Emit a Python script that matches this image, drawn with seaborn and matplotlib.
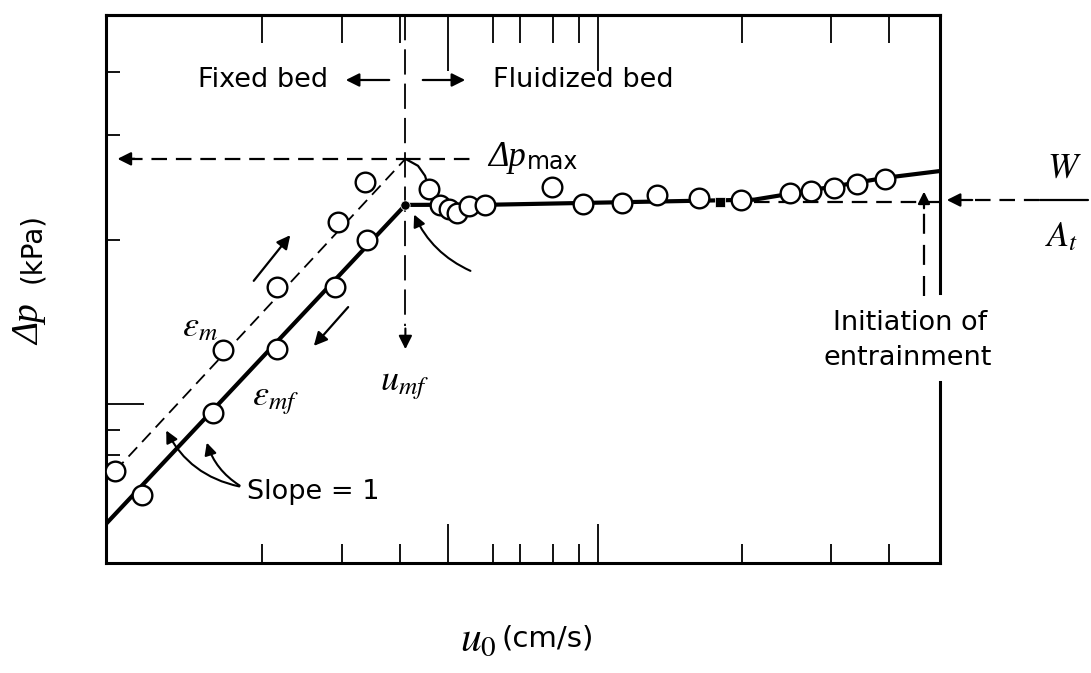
import matplotlib
matplotlib.use("Agg")
import matplotlib.pyplot as plt
from matplotlib.ticker import FixedLocator, NullFormatter
import seaborn as sns

# ---------------- data (u0 in cm/s, dp in kPa, log-log) ----------------
# increasing gas velocity through the packed bed (voidage eps_m)
u_up = [0.00603, 0.0316, 0.0724, 0.185, 0.28]
dp_up = [0.390, 2.135, 5.17, 12.9, 22.6]
# decreasing gas velocity, bed settled at eps_mf
u_down = [0.00912, 0.0271, 0.0724, 0.1765, 0.288]
dp_down = [0.279, 0.881, 2.165, 5.17, 10.0]
# fluidized region measurements
u_fl = [0.747, 0.884, 1.015, 1.148, 1.38, 1.76, 4.94, 7.94, 14.5, 24.7,
        47.1, 89.8, 190.5, 263, 374, 533, 819]
dp_fl = [20.5, 16.35, 15.5, 14.6, 16.1, 16.35, 21.0, 16.6, 16.8, 18.8,
         18.0, 17.5, 19.3, 19.9, 20.8, 21.9, 23.5]
u_sq, dp_sq = [65.0], [17.0]

# fitted curves
u_line_m = [0.00603, 0.52]
dp_line_m = [0.39, 31.2]
u_line_mf = [0.00517, 0.52]
dp_line_mf = [0.183, 16.35]
u_line_fl = [0.52, 2.0, 110, 190, 819, 1905]
dp_line_fl = [16.35, 16.4, 17.6, 19.1, 23.9, 26.3]
u_overshoot = [0.52, 0.631, 0.703, 0.747]
dp_overshoot = [31.2, 28.3, 24.6, 20.5]

u_mf = 0.52
dp_mf = 16.35
dp_max = 31.2
w_over_a = 17.0
u_entrain = 1490
dp_entrain_low = 4.56
dp_entrain_tip = 20.5
dp_umf_arrow = [3.0, 2.075]

x_major = [1, 10]
x_minor = [0.058, 0.196, 0.479, 2, 3, 5, 7.5, 91, 358, 871]
y_major = [1]
y_minor = [0.489, 0.694, 10, 43.7, 106]

# ---------------- style ----------------
sns.set_style("ticks")
plt.rcParams['font.family'] = ['DejaVu Sans']
plt.rcParams['mathtext.fontset'] = 'stix'
plt.rcParams['text.color'] = 'black'

W, H = 1091, 673
fig = plt.figure(figsize=(W / 100, H / 100), dpi=100)
ax = fig.add_axes([106 / W, 1 - 563 / H, (940 - 106) / W, (563 - 15) / H])
ax.set_xscale('log')
ax.set_yscale('log')
ax.set_xlim(0.00525, 1905)
ax.set_ylim(0.1073, 235)


def fp(px, py):
    return (px / W, 1 - py / H)


lw_frame = 2.2
for s in ['left', 'top', 'bottom']:
    ax.spines[s].set_linewidth(lw_frame)
    ax.spines[s].set_color('black')
ax.spines['right'].set_visible(False)
# right border interrupted by the entrainment note
for y0, y1 in [(0.0, (563 - 382) / 548), ((563 - 293) / 548, 1.0)]:
    ax.plot([1, 1], [y0, y1], transform=ax.transAxes, clip_on=False,
            color='black', lw=lw_frame, solid_capstyle='projecting')

ax.xaxis.set_major_locator(FixedLocator(x_major))
ax.xaxis.set_minor_locator(FixedLocator(x_minor))
ax.yaxis.set_major_locator(FixedLocator(y_major))
ax.yaxis.set_minor_locator(FixedLocator(y_minor))
for a in (ax.xaxis, ax.yaxis):
    a.set_major_formatter(NullFormatter())
    a.set_minor_formatter(NullFormatter())
ax.tick_params(which='both', direction='in', color='black', width=1.3,
               bottom=True, left=True, top=False, right=False)
ax.tick_params(axis='x', which='major', length=28)
ax.tick_params(axis='x', which='minor', length=14)
ax.tick_params(axis='y', which='major', length=27)
ax.tick_params(axis='y', which='minor', length=10)

sec = ax.secondary_xaxis('top')
sec.xaxis.set_major_locator(FixedLocator(x_major))
sec.xaxis.set_minor_locator(FixedLocator(x_minor))
sec.xaxis.set_major_formatter(NullFormatter())
sec.xaxis.set_minor_formatter(NullFormatter())
sec.tick_params(which='both', direction='in', width=1.3, color='black')
sec.tick_params(which='major', length=40)
sec.tick_params(which='minor', length=20)
sec.spines['top'].set_linewidth(lw_frame)
sec.spines['top'].set_color('black')

dash = (0, (7, 4))

# packed-bed lines
sns.lineplot(x=u_line_m, y=dp_line_m, ax=ax, color='black', lw=1.3,
             linestyle=dash, sort=False, estimator=None)
sns.lineplot(x=u_line_mf, y=dp_line_mf, ax=ax, color='black', lw=3.0,
             sort=False, estimator=None)
# fluidized plateau
sns.lineplot(x=u_line_fl, y=dp_line_fl, ax=ax, color='black', lw=3.0,
             sort=False, estimator=None)
sns.lineplot(x=u_overshoot, y=dp_overshoot, ax=ax, color='black', lw=1.6,
             sort=False, estimator=None)

# dp_max level and u_mf
sns.lineplot(x=[0.0072, u_mf], y=[dp_max, dp_max], ax=ax, color='black',
             lw=1.6, linestyle=dash, sort=False, estimator=None)
sns.lineplot(x=[u_mf, 1.45], y=[dp_max, dp_max], ax=ax, color='black',
             lw=1.6, linestyle=dash, sort=False, estimator=None)
ax.annotate('', xy=(0.0060, dp_max), xytext=(0.0085, dp_max),
            arrowprops=dict(arrowstyle='-|>', color='black', lw=1.6,
                            mutation_scale=20))
sns.lineplot(x=[u_mf, u_mf], y=[235, dp_umf_arrow[0]], ax=ax, color='black',
             lw=1.3, linestyle=(0, (14, 5)), sort=False, estimator=None)
ax.annotate('', xy=(u_mf, dp_umf_arrow[1]), xytext=(u_mf, dp_umf_arrow[0]),
            arrowprops=dict(arrowstyle='-|>', color='black', lw=1.5,
                            mutation_scale=20))

# W/At level and entrainment marker
sns.lineplot(x=[110, 1905], y=[w_over_a, w_over_a], ax=ax, color='black',
             lw=1.6, linestyle=dash, sort=False, estimator=None)
sns.lineplot(x=[u_entrain, u_entrain], y=[dp_entrain_low, 15.0], ax=ax,
             color='black', lw=1.6, linestyle=(0, (9, 5)), sort=False,
             estimator=None)
ax.annotate('', xy=(u_entrain, dp_entrain_tip), xytext=(u_entrain, 15.0),
            arrowprops=dict(arrowstyle='-|>', color='black', lw=1.6,
                            mutation_scale=18))

# points
circ = dict(s=200, facecolor='white', edgecolor='black', linewidth=1.7,
            zorder=5, legend=False)
sns.scatterplot(x=u_up, y=dp_up, ax=ax, **circ)
sns.scatterplot(x=u_down, y=dp_down, ax=ax, **circ)
sns.scatterplot(x=u_fl, y=dp_fl, ax=ax, **circ)
sns.scatterplot(x=[u_mf], y=[dp_mf], ax=ax, s=45, color='black', zorder=6,
                legend=False)
sns.scatterplot(x=u_sq, y=dp_sq, ax=ax, marker='s', s=45, color='black',
                zorder=6, legend=False)

# ---------------- labels and notes ----------------
fs = 19.5
ff = 'figure fraction'
ital = dict(family='Liberation Serif', style='italic')
fig.text(*fp(263, 80), 'Fixed bed', fontsize=fs, ha='center', va='center')
fig.text(*fp(493, 80), 'Fluidized bed', fontsize=fs, ha='left', va='center')
arr = dict(arrowstyle='-|>', color='black', lw=1.6, mutation_scale=20)
ax.annotate('', xy=fp(343, 80), xytext=fp(392, 80), xycoords=ff,
            textcoords=ff, arrowprops=arr)
ax.annotate('', xy=fp(468, 80), xytext=fp(420, 80), xycoords=ff,
            textcoords=ff, arrowprops=arr)

fig.text(*fp(488, 158), 'Δp', fontsize=25, ha='left', va='center', **ital)
fig.text(*fp(527, 162), 'max', fontsize=17, ha='left', va='center')

fig.text(*fp(200, 326), r'$\varepsilon_m$', fontsize=26, ha='center',
         va='center')
fig.text(*fp(276, 400), r'$\varepsilon_{mf}$', fontsize=26, ha='center',
         va='center')
fig.text(*fp(405, 385), r'$u_{mf}$', fontsize=26, ha='center', va='center')

fig.text(*fp(313, 492), 'Slope = 1', fontsize=fs, ha='center', va='center')
ax.annotate('', xy=fp(165, 428), xytext=fp(242, 487), xycoords=ff,
            textcoords=ff,
            arrowprops=dict(arrowstyle='-|>', color='black', lw=1.5,
                            mutation_scale=18,
                            connectionstyle='arc3,rad=-0.25'))
ax.annotate('', xy=fp(206, 440), xytext=fp(242, 487), xycoords=ff,
            textcoords=ff,
            arrowprops=dict(arrowstyle='-|>', color='black', lw=1.5,
                            mutation_scale=18,
                            connectionstyle='arc3,rad=-0.2'))
ax.annotate('', xy=fp(292, 233), xytext=fp(252, 283), xycoords=ff,
            textcoords=ff, arrowprops=arr)
ax.annotate('', xy=fp(312, 348), xytext=fp(350, 305), xycoords=ff,
            textcoords=ff, arrowprops=arr)
ax.annotate('', xy=fp(413, 212), xytext=fp(473, 272), xycoords=ff,
            textcoords=ff,
            arrowprops=dict(arrowstyle='-|>', color='black', lw=1.5,
                            mutation_scale=18,
                            connectionstyle='arc3,rad=-0.2'))

fig.text(*fp(910, 323), 'Initiation of', fontsize=fs, ha='center',
         va='center')
fig.text(*fp(908, 358), 'entrainment', fontsize=fs, ha='center',
         va='center')

# W / A_t outside the frame
ax.annotate('', xy=fp(944, 200), xytext=fp(975, 200), xycoords=ff,
            textcoords=ff, arrowprops=arr)
fig.add_artist(plt.Line2D([975 / W, 1040 / W], [1 - 200 / H] * 2,
                          color='black', lw=1.6, linestyle=dash))
fig.add_artist(plt.Line2D([1040 / W, 1088 / W], [1 - 200 / H] * 2,
                          color='black', lw=1.6))
fig.text(*fp(1064, 168), r'$W$', fontsize=26, ha='center', va='center')
fig.text(*fp(1062, 236), r'$A_t$', fontsize=26, ha='center', va='center')

# axis titles
fig.text(*fp(30, 325), 'Δp', fontsize=27, rotation=90, ha='center',
         va='center', **ital)
fig.text(*fp(32, 248), '(kPa)', fontsize=20, rotation=90, ha='center',
         va='center')
fig.text(*fp(478, 638), r'$u_0$', fontsize=30, ha='center', va='center')
fig.text(*fp(548, 638), '(cm/s)', fontsize=21, ha='center', va='center')

fig.savefig('out.png', dpi=100)
